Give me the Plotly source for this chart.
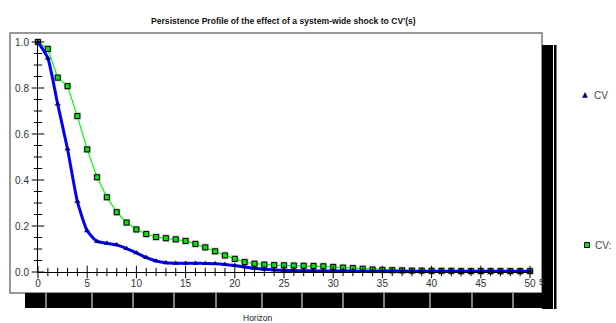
import plotly.graph_objects as go

horizon = list(range(0, 51))
cv_blue = [1.0, 0.93, 0.73, 0.535, 0.307, 0.179, 0.133, 0.125, 0.118, 0.102,
           0.083, 0.063, 0.048, 0.040, 0.038, 0.038, 0.038, 0.037, 0.036, 0.033,
           0.028, 0.022, 0.016, 0.012, 0.009, 0.007, 0.006, 0.005, 0.005, 0.004,
           0.004, 0.004, 0.004, 0.003, 0.003, 0.003, 0.003, 0.003, 0.003, 0.003,
           0.003, 0.003, 0.003, 0.003, 0.003, 0.003, 0.003, 0.003, 0.003, 0.003,
           0.003]
cv_green = [1.0, 0.97, 0.845, 0.808, 0.678, 0.533, 0.412, 0.325, 0.26, 0.215,
            0.185, 0.165, 0.152, 0.147, 0.142, 0.135, 0.122, 0.107, 0.09, 0.072,
            0.057, 0.043, 0.036, 0.032, 0.030, 0.029, 0.028, 0.027, 0.026, 0.025,
            0.022, 0.019, 0.017, 0.014, 0.011, 0.009, 0.008, 0.007, 0.006, 0.006,
            0.005, 0.005, 0.005, 0.004, 0.004, 0.004, 0.004, 0.004, 0.004, 0.004,
            0.004]
x_ticks = [0, 5, 10, 15, 20, 25, 30, 35, 40, 45, 50]
y_ticks = [0.0, 0.2, 0.4, 0.6, 0.8, 1.0]
y_ticktext = ["0.0", "0.2", "0.4", "0.6", "0.8", "1.0"]
title_text = "Persistence Profile of the effect of a system-wide shock to CV'(s)"
series_names = ["CV", "CV:"]

W, H = 616, 323
L, R, T, B = 38, 86, 42, 51
pw, ph = W - L - R, H - T - B


def px(xp):
    return (xp - L) / pw


def py(yp):
    return (H - B - yp) / ph


fig = go.Figure()

# green series: halo, line, markers
fig.add_trace(go.Scatter(x=horizon, y=cv_green, mode="markers",
                         marker=dict(symbol="square", size=7.5, color="rgba(150,150,150,0.55)"),
                         showlegend=False, hoverinfo="skip", cliponaxis=False))
fig.add_trace(go.Scatter(x=horizon, y=cv_green, mode="lines+markers", name=series_names[1],
                         line=dict(color="#00ff00", width=1.2),
                         marker=dict(symbol="square", size=5, color="#11dd11",
                                     line=dict(color="#000000", width=1)),
                         showlegend=False, cliponaxis=False))
# blue series
fig.add_trace(go.Scatter(x=horizon, y=cv_blue, mode="lines+markers", name=series_names[0],
                         line=dict(color="#0000ff", width=3, shape="spline", smoothing=0.5),
                         marker=dict(symbol="triangle-up", size=5.5, color="#000080"),
                         showlegend=False, cliponaxis=False))

# crossing tick marks
minor_x = [v for v in horizon if v % 5 != 0]
fig.add_trace(go.Scatter(x=minor_x, y=[0] * len(minor_x), mode="markers",
                         marker=dict(symbol="line-ns", size=6, line=dict(color="#000", width=1)),
                         showlegend=False, hoverinfo="skip", cliponaxis=False))
fig.add_trace(go.Scatter(x=x_ticks, y=[0] * len(x_ticks), mode="markers",
                         marker=dict(symbol="line-ns", size=9, line=dict(color="#000", width=1)),
                         showlegend=False, hoverinfo="skip", cliponaxis=False))
minor_y = [i / 20 for i in range(21) if i % 4 != 0]
fig.add_trace(go.Scatter(x=[0] * len(minor_y), y=minor_y, mode="markers",
                         marker=dict(symbol="line-ew", size=6, line=dict(color="#000", width=1)),
                         showlegend=False, hoverinfo="skip", cliponaxis=False))
fig.add_trace(go.Scatter(x=[0] * len(y_ticks), y=y_ticks, mode="markers",
                         marker=dict(symbol="line-ew", size=9, line=dict(color="#000", width=1)),
                         showlegend=False, hoverinfo="skip", cliponaxis=False))

shapes = []
# outer frame
shapes.append(dict(type="rect", xref="paper", yref="paper",
                   x0=px(10), x1=px(542), y0=py(293), y1=py(33),
                   line=dict(color="#777777", width=1.5), layer="below"))
# right black bars
shapes.append(dict(type="rect", xref="paper", yref="paper",
                   x0=px(542), x1=px(553), y0=py(309), y1=py(45),
                   fillcolor="#000", line=dict(width=0)))
shapes.append(dict(type="rect", xref="paper", yref="paper",
                   x0=px(554), x1=px(556.5), y0=py(309), y1=py(45),
                   fillcolor="#000", line=dict(width=0)))
# bottom black bar with white gaps
shapes.append(dict(type="rect", xref="paper", yref="paper",
                   x0=px(25), x1=px(553), y0=py(308), y1=py(293),
                   fillcolor="#000", line=dict(width=0)))
for g in [46, 92, 133, 174, 216, 262, 302, 343, 384, 430, 472, 513]:
    shapes.append(dict(type="rect", xref="paper", yref="paper",
                       x0=px(g - 0.5), x1=px(g + 0.5), y0=py(308), y1=py(293),
                       fillcolor="#fff", line=dict(width=0)))
# legend markers
shapes.append(dict(type="path", xref="paper", yref="paper",
                   path="M {} {} L {} {} L {} {} Z".format(px(582.5), py(97.5), px(587.5), py(97.5), px(585), py(92.5)),
                   fillcolor="#000080", line=dict(color="#000080", width=0.5)))
shapes.append(dict(type="rect", xref="paper", yref="paper",
                   x0=px(584.5), x1=px(589.5), y0=py(247.5), y1=py(242.5),
                   fillcolor="#11dd11", line=dict(color="#000", width=1)))

annotations = [
    dict(text="<b>" + title_text + "</b>", xref="paper", yref="paper",
         x=px(283), y=py(21), showarrow=False, xanchor="center", yanchor="middle",
         font=dict(family="Arial, Liberation Sans", size=8.6, color="#111")),
    dict(text="Horizon", xref="paper", yref="paper", x=px(258), y=py(318),
         showarrow=False, xanchor="center", yanchor="middle",
         font=dict(family="Arial, Liberation Sans", size=8.5, color="#222")),
    dict(text="5", xref="paper", yref="paper", x=px(536.5), y=py(281),
         showarrow=False, xanchor="left", yanchor="middle",
         font=dict(family="Arial, Liberation Sans", size=9.5, color="#333")),
    dict(text=series_names[0], xref="paper", yref="paper", x=px(592), y=py(95),
         showarrow=False, xanchor="left", yanchor="middle",
         font=dict(family="Arial, Liberation Sans", size=10, color="#444")),
    dict(text=series_names[1], xref="paper", yref="paper", x=px(593), y=py(245),
         showarrow=False, xanchor="left", yanchor="middle",
         font=dict(family="Arial, Liberation Sans", size=10, color="#444")),
]

fig.update_layout(
    width=W, height=H,
    margin=dict(l=L, r=R, t=T, b=B, pad=0),
    paper_bgcolor="#ffffff", plot_bgcolor="#ffffff",
    font=dict(family="Arial, Liberation Sans", size=10, color="#333"),
    showlegend=False,
    shapes=shapes,
    annotations=annotations,
    xaxis=dict(range=[0, 50], tickvals=x_ticks, ticktext=[str(v) for v in x_ticks],
               showgrid=False, zeroline=False, showline=True, linecolor="#000",
               linewidth=1, ticks="", ticklabelstandoff=2,
               tickfont=dict(size=10, color="#333")),
    yaxis=dict(range=[0, 1], tickvals=y_ticks, ticktext=y_ticktext,
               showgrid=False, zeroline=False, showline=True, linecolor="#000",
               linewidth=1, ticks="", ticklabelstandoff=6,
               tickfont=dict(size=10, color="#333")),
)

fig.write_html("out.html")
